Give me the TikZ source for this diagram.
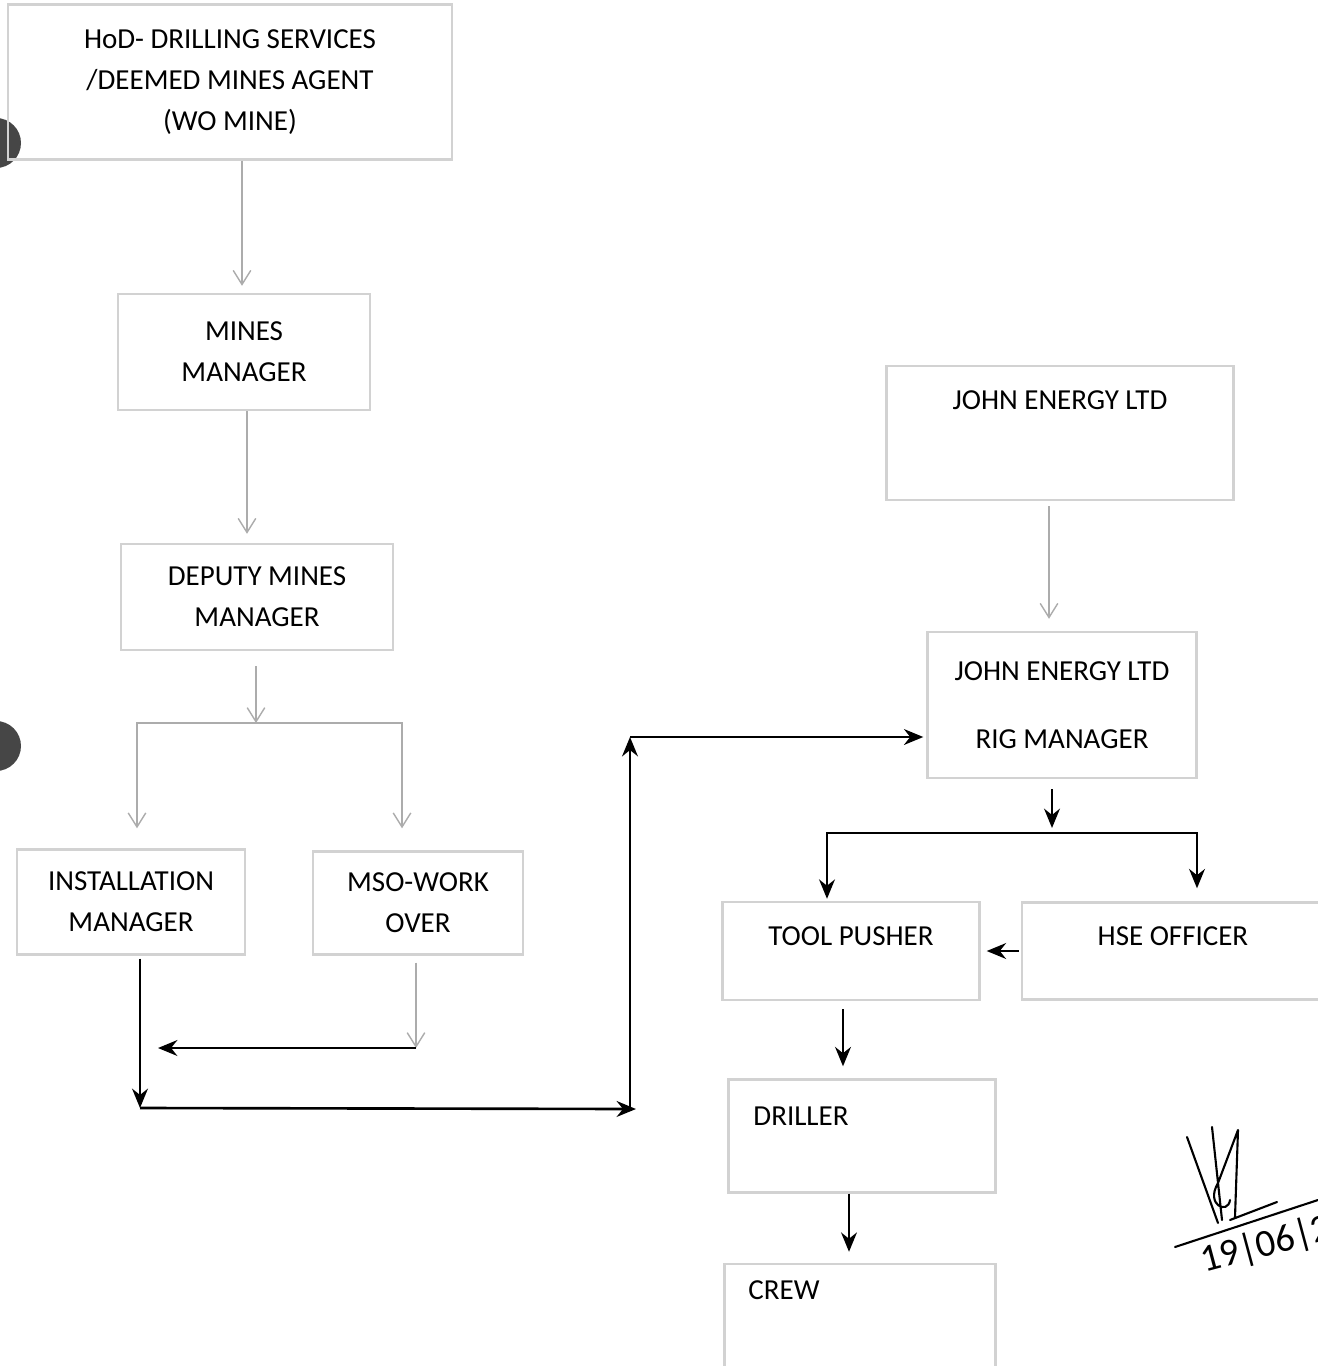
\documentclass[tikz,border=0pt]{standalone}
\usepackage{fontspec}
\setmainfont{Carlito}
\usetikzlibrary{arrows.meta,positioning}
\tikzset{
  box/.style={draw=gray!35, line width=1.4pt, inner sep=0pt, align=center,
    font=\fontsize{16.5}{23.3}\selectfont},
  every label/.style={font=\fontsize{16.5}{23.3}\selectfont},
  faint/.style={draw=gray!65, line width=0.8pt, -{Straight Barb[length=8pt,width=10pt]}},
  bold/.style={line width=1.5pt, -{Stealth[length=11pt,width=9pt]}},
}
\begin{document}
\begin{tikzpicture}[x=0.02cm,y=-0.02cm]
  \useasboundingbox[fill=white] (0,0) rectangle (1318,1366);
  % punched holes of the scan
  \fill[gray!55!black] (-4,143) circle (25);
  \fill[gray!55!black] (-4,746) circle (25);

  % left column
  \node[box, minimum width=8.88cm, minimum height=3.1cm] (hod) at (230,82)
    {HoD- DRILLING SERVICES\\/DEEMED MINES AGENT\\(WO MINE)};
  \node[box, minimum width=5.04cm, minimum height=2.32cm] (mines) at (244,352)
    {MINES\\MANAGER};
  \node[box, minimum width=5.44cm, minimum height=2.12cm] (deputy) at (257,597)
    {DEPUTY MINES\\MANAGER};
  \node[box, minimum width=4.56cm, minimum height=2.1cm] (install) at (131,902)
    {INSTALLATION\\MANAGER};
  \node[box, minimum width=4.2cm, minimum height=2.06cm] (mso) at (418,903)
    {MSO-WORK\\OVER};

  % right column
  \node[box, minimum width=6.94cm, minimum height=2.68cm,
    label={[yshift=0.66cm]center:JOHN ENERGY LTD}] (john) at (1060,433) {};
  \node[box, minimum width=5.38cm, minimum height=2.92cm] (rig) at (1062,705)
    {JOHN ENERGY LTD\\[15.7pt]RIG MANAGER};
  \node[box, minimum width=5.14cm, minimum height=1.96cm,
    label={[yshift=0.3cm]center:TOOL PUSHER}] (tool) at (851,951) {};
  \node[box, minimum width=6.2cm, minimum height=1.94cm,
    label={[xshift=-0.08cm,yshift=0.3cm]center:HSE OFFICER}] (hse) at (1177,951) {};
  \node[box, minimum width=5.34cm, minimum height=2.26cm,
    label={[xshift=-1.22cm,yshift=0.4cm]center:DRILLER}] (driller) at (862,1136) {};
  \node[box, minimum width=5.42cm, minimum height=2.4cm,
    label={[xshift=-1.52cm,yshift=0.67cm]center:CREW}] (crew) at (860,1324) {};

  % turning points
  \coordinate (split) at (256,723);
  \coordinate (lowL) at (140,1108);
  \coordinate (turn) at (630,1109);
  \coordinate (upper) at (630,737);
  \coordinate (midR) at (416,1048);
  \coordinate (midL) at (158,1048);
  \coordinate (split2) at (1052,833);

  % connectors
  \draw[faint, shorten >=0.14cm] (hod.south -| 242,0) -- (mines.north -| 242,0);
  \draw[faint, shorten >=0.18cm] (mines.south -| 247,0) -- (deputy.north -| 247,0);
  \draw[faint, shorten <=0.3cm] (deputy.south -| split) -- (split);
  \draw[faint, shorten >=0.4cm] (split) -| ([xshift=0.12cm]install.north);
  \draw[faint, shorten >=0.44cm] (split) -| ([xshift=-0.32cm]mso.north);
  \draw[bold, shorten <=0.06cm] (install.south -| lowL) -- (lowL);
  \draw[bold] (lowL) -- ([xshift=0.12cm]turn);
  \draw[bold] (turn) -- (upper);
  \draw[bold, shorten >=0.06cm] (upper) -- (rig.west |- upper);
  \draw[faint, shorten <=0.14cm] (mso.south -| midR) -- (midR);
  \draw[bold] (midR) -- (midL);
  \draw[faint, shorten <=0.1cm, shorten >=0.24cm] (john.south -| 1049,0) -- (rig.north -| 1049,0);
  \draw[bold, shorten <=0.2cm, shorten >=0.1cm] (rig.south -| split2) -- (split2);
  \draw[bold, shorten >=0.04cm] (split2) -| (tool.north -| 827,0);
  \draw[bold, shorten >=0.26cm] (split2) -| (hse.north -| 1197,0);
  \draw[bold, shorten <=0.04cm, shorten >=0.12cm] (hse.west) -- (tool.east);
  \draw[bold, shorten <=0.16cm, shorten >=0.24cm] (tool.south -| 843,0) -- (driller.north -| 843,0);
  \draw[bold, shorten >=0.22cm] (driller.south -| 849,0) -- (crew.north -| 849,0);

  % signature and date
  \draw[line width=1.2pt, line cap=round, line join=round]
    (1187,1137) -- (1218,1223) (1212,1127) -- (1222,1220)
    (1238,1130) -- (1235,1217) (1238,1130) -- (1218,1183)
    (1218,1183) .. controls (1205,1205) and (1228,1215) .. (1230,1200)
    (1230,1220) -- (1277,1202)
    (1175,1247) -- (1318,1200);
  \node[rotate=15, font=\fontsize{22}{24}\selectfont, anchor=west] (date) at (1196,1264) {19|06|2};
\end{tikzpicture}
\end{document}
